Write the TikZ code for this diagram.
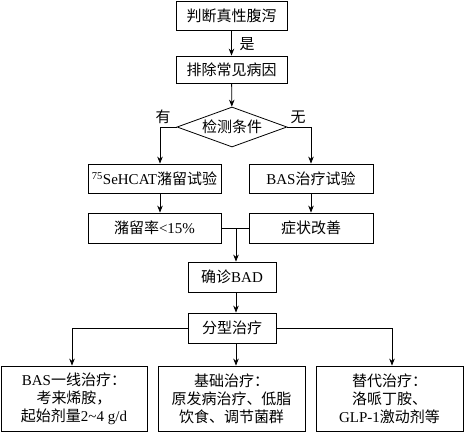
\documentclass[tikz,border=0pt]{standalone}
\usepackage{fontspec}
\setmainfont{Liberation Serif}
\newfontfamily\cjk{Noto Sans CJK SC}
\usetikzlibrary{shapes.geometric,arrows.meta}
\begin{document}
\begin{tikzpicture}[x=1pt,y=-1pt,
  font=\fontsize{15}{18}\selectfont,
  box/.style={draw, line width=0.8pt, inner sep=0pt, align=center},
  arr/.style={-{Stealth[length=7pt,width=5.5pt]}, line width=0.8pt},
  ln/.style={line width=0.8pt},
  lab/.style={inner sep=0pt}]
\useasboundingbox (0,0) rectangle (464,432);
\node[box, minimum width=111pt, minimum height=29pt] (b1) at (231.5,15.5) {\cjk 判断真性腹泻};
\node[box, minimum width=111pt, minimum height=27pt] (b2) at (231.5,69.5) {\cjk 排除常见病因};
\node[box, shape=diamond, aspect=2.75, minimum width=110pt, minimum height=40pt] (d) at (232,127) {\cjk 检测条件};
\node[box, minimum width=133pt, minimum height=29pt] (b3) at (154.5,178.5) {\textsuperscript{75}SeHCAT{\cjk 潴留试验}};
\node[box, minimum width=124pt, minimum height=29pt] (b4) at (311,178.5) {BAS{\cjk 治疗试验}};
\node[box, minimum width=133pt, minimum height=30pt] (b5) at (154.5,228) {{\cjk 潴留率}<15\%};
\node[box, minimum width=124pt, minimum height=30pt] (b6) at (311,228) {\cjk 症状改善};
\node[box, minimum width=88pt, minimum height=30pt] (b7) at (232,277) {{\cjk 确诊}BAD};
\node[box, minimum width=88pt, minimum height=30pt] (b8) at (232,328) {\cjk 分型治疗};
\node[box, minimum width=146pt, minimum height=65pt] (b9) at (74,398.5) {BAS{\cjk 一线治疗：}\\{\cjk 考来烯胺，}\\{\cjk 起始剂量}2\textasciitilde 4 g/d};
\node[box, minimum width=147pt, minimum height=65pt] (b10) at (231.5,398.5) {\cjk 基础治疗：\\\cjk 原发病治疗、低脂\\\cjk 饮食、调节菌群};
\node[box, minimum width=147pt, minimum height=65pt] (b11) at (389.5,398.5) {\cjk 替代治疗：\\\cjk 洛哌丁胺、\\GLP-1{\cjk 激动剂等}};
\node[lab] (yes) at (247,44) {\cjk 是};
\node[lab] (you) at (163,117) {\cjk 有};
\node[lab] (wu) at (298,117) {\cjk 无};
\coordinate (dl) at (160,127);
\coordinate (dr) at (311,127);
\coordinate (j) at (236,228);
\coordinate (l9) at (72,328);
\coordinate (r11) at (392,328);
\draw[arr] (b1) -- (b2);
\draw[arr] (b2) -- (d);
\draw[arr] (d.west) -- (dl) -- (dl |- b3.north);
\draw[arr] (d.east) -- (dr) -- (dr |- b4.north);
\draw[arr] (dl |- b3.south) -- (dl |- b5.north);
\draw[arr] (dr |- b4.south) -- (dr |- b6.north);
\draw[ln] (b5.east) -- (b6.west);
\draw[arr] (j) -- (j |- b7.north);
\draw[arr] (j |- b7.south) -- (j |- b8.north);
\draw[arr] (b8.west) -- (l9) -- (l9 |- b9.north);
\draw[arr] (b8.east) -- (r11) -- (r11 |- b11.north);
\draw[arr] (j |- b8.south) -- (j |- b10.north);
\end{tikzpicture}
\end{document}
